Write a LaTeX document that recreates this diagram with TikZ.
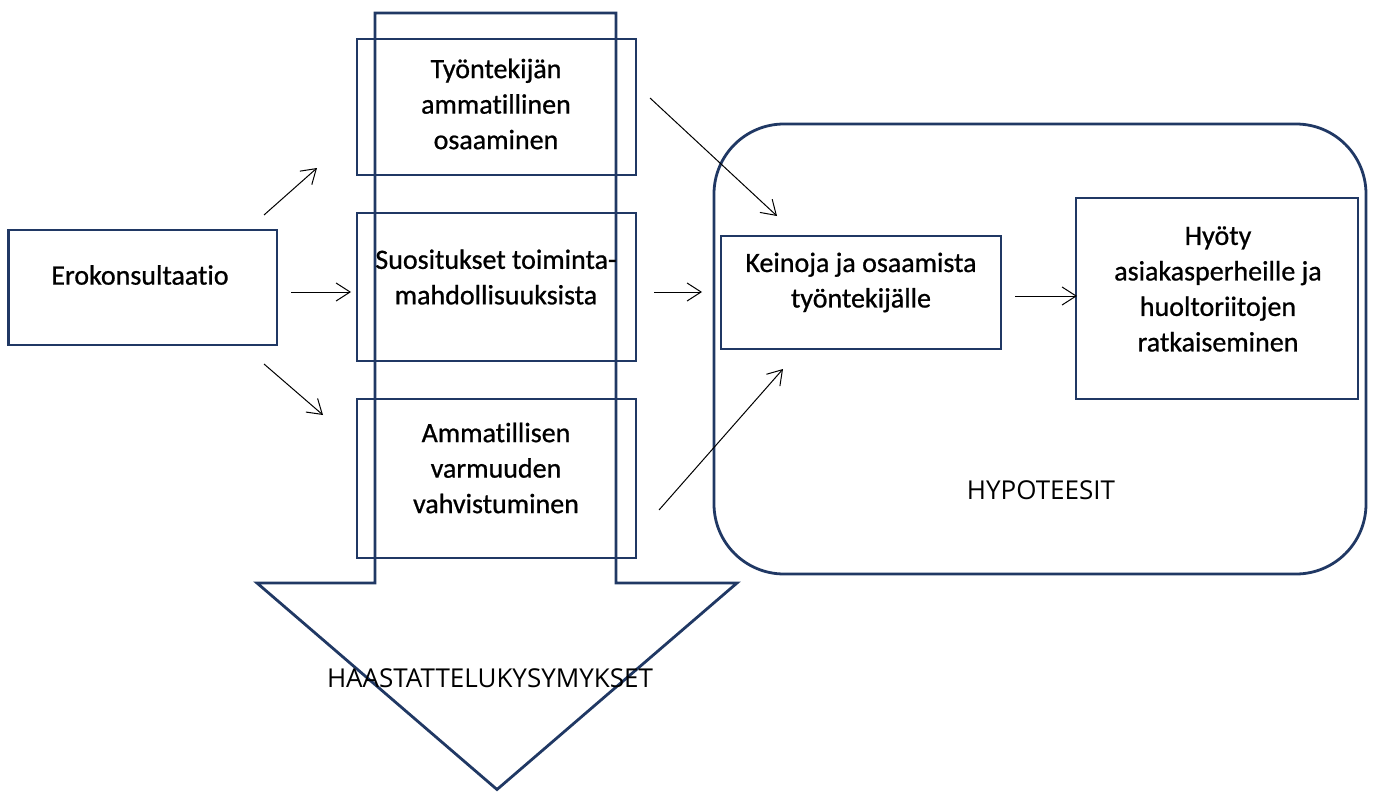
\documentclass[tikz,border=0pt]{standalone}
\usepackage{fontspec}
\setmainfont{Carlito}[Ligatures=NoCommon]
\newfontfamily\boxfont{Carlito}[Ligatures=NoCommon,RawFeature={embolden=0.8}]
\newfontfamily\labelfont{Open Sans}
\usetikzlibrary{arrows.meta}
\definecolor{navy}{RGB}{32,56,100}
\begin{document}
\begin{tikzpicture}[x=1pt,y=-1pt,
  frame/.style={draw=navy,line width=2.8pt,inner sep=0pt},
  boxtext/.style={align=center,font=\boxfont\fontsize{28}{35.5}\selectfont,inner sep=0pt},
  captext/.style={font=\labelfont\fontsize{26}{30}\selectfont,inner sep=0pt},
  conn/.style={draw=black,line width=1pt,-{Straight Barb[length=14pt,width=18pt,line width=1pt]}},
]
\useasboundingbox (0,0) rectangle (1374,792);
% big block arrow
\draw[draw=navy,line width=2.8pt,line join=miter] (375,13) -- (616,13) -- (616,583) -- (737,583) -- (497,789.5) -- (257,583) -- (375,583) -- cycle;
% hypotheses frame
\node[frame,rounded corners=70pt,minimum width=652pt,minimum height=450pt] (hyp) at (1040,349) {};
% boxes
\node[frame,minimum width=268.5pt,minimum height=115pt] (ero) at (142.75,287.5) {};
\node[frame,minimum width=279pt,minimum height=136pt] (b1) at (496.5,107) {};
\node[frame,minimum width=279pt,minimum height=148pt] (b2) at (496.5,287) {};
\node[frame,minimum width=279pt,minimum height=159pt] (b3) at (496.5,478.5) {};
\node[frame,minimum width=280pt,minimum height=113pt] (kei) at (861,292.5) {};
\node[frame,minimum width=282pt,minimum height=201pt] (hyo) at (1217,298.5) {};
% texts
\node[boxtext] (tero) at (140,275) {Erokonsultaatio};
\node[boxtext] (tb1) at (496,104) {Työntekijän\\ammatillinen\\osaaminen};
\node[boxtext] (tb2) at (496,277) {Suositukset toiminta-\\mahdollisuuksista};
\node[boxtext] (tb3) at (496,468) {Ammatillisen\\varmuuden\\vahvistuminen};
\node[boxtext] (tkei) at (861,282.5) {Keinoja ja osaamista\\työntekijälle};
\node[boxtext] (thyo) at (1218,289) {Hyöty\\asiakasperheille ja\\huoltoriitojen\\ratkaiseminen};
\node[captext] (thyp) at (1041,490) {HYPOTEESIT};
\node[captext] (thaa) at (490,678) {HAASTATTELUKYSYMYKSET};
% connector end points
\coordinate (e1s) at (264,215); \coordinate (e1e) at (317,168);
\coordinate (e2s) at (291,292); \coordinate (e2e) at (351,292);
\coordinate (e3s) at (264,364); \coordinate (e3e) at (323,415);
\coordinate (k1s) at (650,98);  \coordinate (k1e) at (777,216);
\coordinate (k2s) at (654,292); \coordinate (k2e) at (702,292);
\coordinate (k3s) at (659,510); \coordinate (k3e) at (783,369);
\coordinate (h1s) at (1015,296); \coordinate (h1e) at (1077,296);
\draw[conn] (e1s) -- (e1e);
\draw[conn] (e2s) -- (e2e);
\draw[conn] (e3s) -- (e3e);
\draw[conn] (k1s) -- (k1e);
\draw[conn] (k2s) -- (k2e);
\draw[conn] (k3s) -- (k3e);
\draw[conn] (h1s) -- (h1e);
\end{tikzpicture}
\end{document}
